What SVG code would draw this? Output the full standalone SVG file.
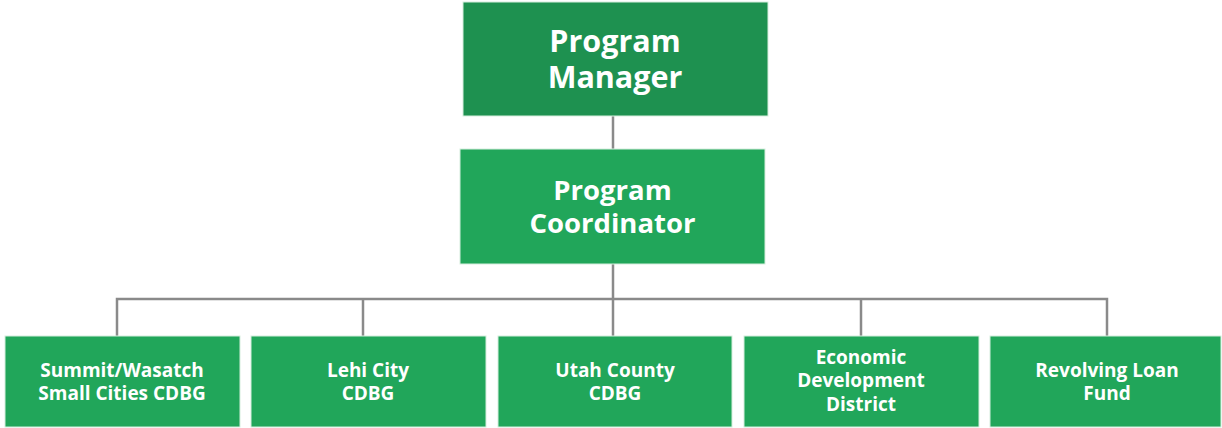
<svg xmlns="http://www.w3.org/2000/svg" width="1222" height="428" viewBox="0 0 1222 428">
<style>
.box{fill:#21a65a;stroke:#d6eedd;stroke-width:1}
.top{fill:#1e9150}
.t{font-family:"Open Sans","Noto Sans",sans-serif;font-weight:bold;fill:#ffffff;text-anchor:middle}
.big{font-size:30.5px}
.mid{font-size:27.5px}
.sm{font-size:19px}
.ln{stroke:#8a8a8a;stroke-width:2.5;fill:none}
</style>
<rect width="1222" height="428" fill="#ffffff"/>
<g id="connectors">
<line class="ln" x1="613" y1="116" x2="613" y2="149"/>
<line class="ln" x1="613" y1="264" x2="613" y2="336"/>
<polyline class="ln" points="117,336 117,299 1107,299 1107,336"/>
<line class="ln" x1="363" y1="299" x2="363" y2="336"/>
<line class="ln" x1="861" y1="299" x2="861" y2="336"/>
</g>
<g id="manager">
<rect class="box top" x="463" y="2" width="305" height="114"/>
<text class="t big" x="615" y="52">Program</text>
<text class="t big" x="615" y="88">Manager</text>
</g>
<g id="coordinator">
<rect class="box" x="460" y="149" width="305" height="115"/>
<text class="t mid" x="612.5" y="200">Program</text>
<text class="t mid" x="612.5" y="233">Coordinator</text>
</g>
<g id="summit">
<rect class="box" x="5" y="336" width="235" height="91"/>
<text class="t sm" x="122" y="377">Summit/Wasatch</text>
<text class="t sm" x="122" y="400">Small Cities CDBG</text>
</g>
<g id="lehi">
<rect class="box" x="251" y="336" width="235" height="91"/>
<text class="t sm" x="368" y="377">Lehi City</text>
<text class="t sm" x="368" y="400">CDBG</text>
</g>
<g id="utah">
<rect class="box" x="498" y="336" width="234" height="91"/>
<text class="t sm" x="615" y="377">Utah County</text>
<text class="t sm" x="615" y="400">CDBG</text>
</g>
<g id="edd">
<rect class="box" x="744" y="336" width="235" height="91"/>
<text class="t sm" x="861" y="364">Economic</text>
<text class="t sm" x="861" y="387">Development</text>
<text class="t sm" x="861" y="411">District</text>
</g>
<g id="rlf">
<rect class="box" x="990" y="336" width="231" height="91"/>
<text class="t sm" x="1107" y="377">Revolving Loan</text>
<text class="t sm" x="1107" y="400">Fund</text>
</g>
</svg>
